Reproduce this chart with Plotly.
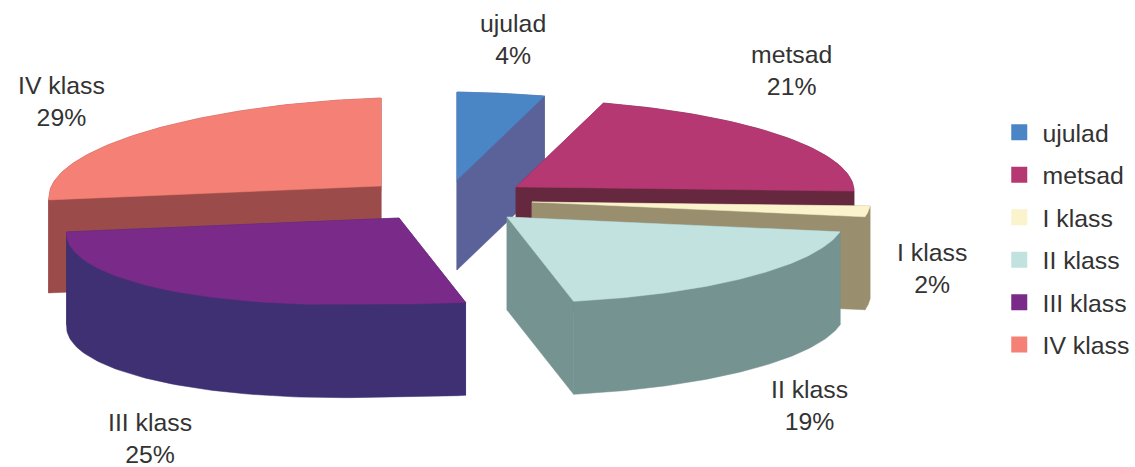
import numpy as np
import plotly.graph_objects as go

categories = ["ujulad", "metsad", "I klass", "II klass", "III klass", "IV klass"]
shares = [4, 21, 2, 19, 25, 29]
top_colors = ["#4a86c6", "#b53873", "#faf3cc", "#c2e2df", "#7a2a88", "#f58075"]
side_colors = ["#5a6299", "#66283f", "#998e6e", "#759391", "#3e3072", "#9c4b4b"]
wedge_cx = [457, 516, 532, 507, 399, 381]
wedge_cy = [180, 187, 202, 217, 218, 186]
depths = [90, 93, 93, 93, 93, 93]
label_x = [513, 791, 932, 809, 150, 61]
label_y = [39, 70, 268, 405, 438, 101]

RX_RIGHT, RX_LEFT = 338, 332
RY_BACK, RY_FRONT = 88, 86
SHEAR_X = 0.21
TILT_RIGHT, TILT_LEFT = 0.012, 0.033
# the drawn pie is seen in perspective: true sweep angle -> drawn angle
VIEW_TRUE = [0, 14.4, 90, 97.2, 165.6, 255.6, 360]
VIEW_DRAWN = [0, 15, 90, 97.2, 165.6, 268, 360]
FONT = "Liberation Sans, Arial, sans-serif"
TEXT = "#333333"


def project(cx, cy, deg):
    t = np.radians(np.interp(deg, VIEW_TRUE, VIEW_DRAWN))
    s, c = np.sin(t), np.cos(t)
    dx = np.where(s > 0, RX_RIGHT, RX_LEFT) * s
    dy = -np.where(c > 0, RY_BACK, RY_FRONT) * c
    tilt = np.where(dx > 0, TILT_RIGHT * dx, -TILT_LEFT * dx)
    return cx + dx - SHEAR_X * np.maximum(dy, 0), cy + dy + tilt


def closed(xs, ys):
    return list(xs) + [xs[0]], list(ys) + [ys[0]]


def add_face(fig, xs, ys, color, name=None):
    px, py = closed(xs, ys)
    fig.add_trace(go.Scatter(x=px, y=py, mode="lines", fill="toself", fillcolor=color,
                             line=dict(color=color, width=0.5), name=name,
                             hoverinfo="skip" if name is None else None, showlegend=False))


fig = go.Figure()
edges = np.cumsum([0] + shares) / sum(shares) * 360
order = [0, 5, 1, 2, 3, 4]
for i in order:
    cx, cy, d = wedge_cx[i], wedge_cy[i], depths[i]
    sweep = np.linspace(edges[i], edges[i + 1], 80)
    ax, ay = project(cx, cy, sweep)
    side = side_colors[i]
    add_face(fig, [cx, ax[0], ax[0], cx], [cy, ay[0], ay[0] + d, cy + d], side)
    add_face(fig, [cx, ax[-1], ax[-1], cx], [cy, ay[-1], ay[-1] + d, cy + d], side)
    add_face(fig, list(ax) + list(ax[::-1]), list(ay) + list(ay[::-1] + d), side)
    add_face(fig, [cx] + list(ax), [cy] + list(ay), top_colors[i], categories[i])

for name, color in zip(categories, top_colors):
    fig.add_trace(go.Scatter(x=[None], y=[None], mode="markers", name=name, legendgroup=name,
                             marker=dict(symbol="square", size=17, color=color)))

for name, share, x, y in zip(categories, shares, label_x, label_y):
    fig.add_annotation(x=x, y=y, text=f"{name}<br>{share}%", showarrow=False,
                       font=dict(family=FONT, size=24.8, color=TEXT), align="center",
                       xanchor="center", yanchor="middle")

fig.update_layout(
    width=1135, height=467, autosize=False,
    margin=dict(l=0, r=0, t=0, b=0),
    paper_bgcolor="white", plot_bgcolor="white",
    xaxis=dict(range=[0, 1135], visible=False, fixedrange=True),
    yaxis=dict(range=[467, 0], visible=False, fixedrange=True),
    legend=dict(x=1, xref="paper", y=0.765, yref="paper", yanchor="top", xanchor="right",
                font=dict(family=FONT, size=24.8, color=TEXT),
                tracegroupgap=7.2, traceorder="grouped", itemwidth=36.5,
                entrywidth=80, entrywidthmode="pixels",
                bgcolor="rgba(0,0,0,0)"),
    showlegend=True,
)

fig.write_html("out.html", config={"displayModeBar": False},
               post_script="document.body.style.margin='0';")
